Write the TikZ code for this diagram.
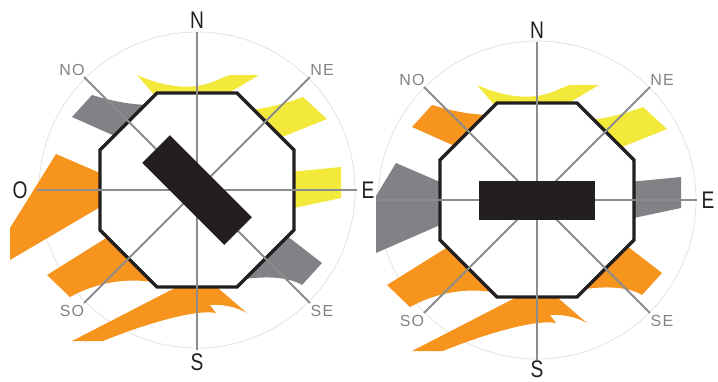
\documentclass[tikz,border=0pt]{standalone}
\usepackage{fontspec}
\setmainfont{Liberation Sans}
\newfontfamily\bigfont[FakeStretch=0.8]{Liberation Sans}
\newfontfamily\smallfont[LetterSpace=8]{Liberation Sans}
\definecolor{cOr}{HTML}{F7941D}
\definecolor{cYe}{HTML}{F2E93A}
\definecolor{cGr}{HTML}{808285}
\definecolor{cBk}{HTML}{231F20}
\definecolor{cLn}{HTML}{8C8C8C}
\definecolor{cCi}{HTML}{E2E2E2}
\tikzset{
  axisline/.style={draw=cLn, line width=1.8},
  ring/.style={draw=cCi, line width=0.8},
  octo/.style={draw=cBk, fill=white, line width=3.4, line join=miter},
  block/.style={fill=cBk},
  bigl/.style={font=\bigfont\fontsize{24}{24}\selectfont, text=cBk, inner sep=0},
  smalll/.style={font=\smallfont\fontsize{16}{16}\selectfont, text=cGr, inner sep=0},
}
% sector shapes, coordinates relative to the centre of a rose
\newcommand\shpN[1]{\fill[#1] (-60,-115) .. controls (-35,-104) and (-15,-102) .. (0,-104) .. controls (15,-106) and (25,-113) .. (33,-115) -- (62,-115) -- (20,-90) -- (-40,-92) -- cycle;}
\newcommand\shpNO[1]{\fill[#1] (-125,-73) -- (-105,-95) .. controls (-85,-89) and (-70,-86) .. (-50,-85) -- (-55,-60) -- (-80,-53) -- cycle;}
\newcommand\shpNE[1]{\fill[#1] (55,-80) .. controls (75,-83) and (90,-87) .. (106,-93) -- (130,-71) -- (80,-51) -- (60,-60) -- cycle;}
\newcommand\shpE[1]{\fill[#1] (92,-18) -- (144,-23) -- (144,8) -- (92,19) -- cycle;}
\newcommand\shpSO[1]{\fill[#1] (-150,85) -- (-86,45) -- (-40,85) -- (-45,92) .. controls (-70,88) and (-100,92) .. (-127,107) -- cycle;}
\newcommand\shpS[1]{\fill[#1] (-125,151) -- (-22,98) -- (-22,90) -- (20,90) -- (21,98) -- (50,123) .. controls (40,117) and (25,114) .. (13,115) -- (19,123) .. controls (0,119) and (-50,133) .. (-94,151) -- cycle;}
\newcommand\shpSE[1]{\fill[#1] (90,46) -- (125,73) -- (105,95) .. controls (92,87) and (70,86) .. (48,89) -- (70,60) -- cycle;}
% octagon and axis lines
\newcommand\roseFrame{%
  \draw[octo] (-40,-97) -- (40,-97) -- (97,-40) -- (97,40) -- (40,97) -- (-40,97) -- (-97,40) -- (-97,-40) -- cycle;
  \coordinate (pn) at (0,-158);
  \coordinate (ps) at (0,160);
  \coordinate (pw) at (-160,0);
  \coordinate (pe) at (160,0);
  \coordinate (pnw) at (-113,-113);
  \coordinate (pne) at (113,-113);
  \coordinate (psw) at (-113,113);
  \coordinate (pse) at (113,113);
  \draw[axisline] (pn) -- (ps);
  \draw[axisline] (pw) -- (pe);
  \draw[axisline] (pnw) -- (pse);
  \draw[axisline] (pne) -- (psw);
  \node[bigl] (lN) at (0,-170) {N};
  \node[bigl] (lE) at (171,0) {E};
  \node[smalll] (lNO) at (-125,-120) {NO};
  \node[smalll] (lNE) at (125,-120) {NE};
  \node[smalll] (lSO) at (-125,121) {SO};
  \node[smalll] (lSE) at (125,121) {SE};
}
\begin{document}
\begin{tikzpicture}[x=1pt, y=-1pt]
\useasboundingbox (0,0) rectangle (718,381);
% ---------- left rose ----------
\begin{scope}[shift={(197,190)}, name prefix=L-]
  \draw[ring] (0,0) circle (158);
  \fill[cOr] (-141,-36) -- (-90,-14) -- (-90,13) -- (-187,70) -- (-187,38) -- cycle;
  \shpN{cYe}
  \shpNO{cGr}
  \shpNE{cYe}
  \shpE{cYe}
  \shpSO{cOr}
  \shpS{cOr}
  \shpSE{cGr}
  \roseFrame
  \fill[block] (-54.8,-27.2) -- (-27.2,-54.8) -- (54.8,27.2) -- (27.2,54.8) -- cycle;
  \node[bigl] (lO) at (-177,0) {O};
  \node[bigl] (lS) at (0,172) {S};
\end{scope}
% ---------- right rose ----------
\begin{scope}[shift={(537,200)}, name prefix=R-]
  \draw[ring] (0,0) circle (159);
  \fill[cGr] (-141,-37) -- (-90,-15) -- (-90,22) -- (-161,53) -- (-161,-4) -- cycle;
  \shpN{cYe}
  \shpNO{cOr}
  \shpNE{cYe}
  \shpE{cGr}
  \shpSO{cOr}
  \shpS{cOr}
  \shpSE{cOr}
  \roseFrame
  \fill[block] (-58,-19.5) rectangle (58,19.5);
  \node[bigl] (lS) at (0,169) {S};
\end{scope}
\end{tikzpicture}
\end{document}
